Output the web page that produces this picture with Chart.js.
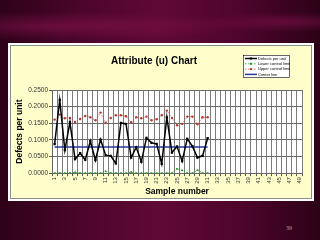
<!DOCTYPE html>
<html>
<head>
<meta charset="utf-8">
<script src="https://cdn.jsdelivr.net/npm/chart.js@4/dist/chart.umd.min.js"></script>
<style>
  html, body { margin: 0; padding: 0; }
  body {
    width: 320px; height: 240px; overflow: hidden; position: relative;
    background:
      radial-gradient(ellipse 200px 14px at 60px 26px, rgba(140,20,80,0.55), rgba(140,20,80,0) 100%),
      radial-gradient(ellipse 90px 10px at 290px 22px, rgba(140,20,80,0.5), rgba(140,20,80,0) 100%),
      linear-gradient(90deg, #2e0219 0%, #50062c 30%, #600936 50%, #4e052b 75%, #2c0217 100%);
  }
  #frame {
    position: absolute; left: 8px; top: 43px; width: 306px; height: 158px;
    background: #ffffff;
  }
  #inner {
    position: absolute; left: 2px; top: 2px; width: 300px; height: 152px;
    border: 1px solid #8c8c8c; background: #ffffcc;
  }
  #pageNo {
    position: absolute; left: 286px; top: 225px;
    font: 6px "Liberation Serif", serif; color: #c09aa8;
  }
</style>
</head>
<body>
<div id="frame"><div id="inner"><canvas id="uChart" width="300" height="152"></canvas></div></div>
<div id="pageNo">39</div>
<script>
// sample numbers on the category axis
const samples = [];
for (let i = 1; i <= 49; i++) samples.push(String(i));

const defectsPerUnit = [0.087, 0.220, 0.069, 0.153, 0.042, 0.060, 0.040, 0.096, 0.039, 0.101,
  0.054, 0.052, 0.029, 0.151, 0.148, 0.047, 0.078, 0.034, 0.106, 0.091,
  0.088, 0.028, 0.168, 0.062, 0.080, 0.036, 0.103, 0.081, 0.047, 0.052, 0.105];

const lowerLimit = [0.000, 0.000, 0.000, 0.000, 0.002, 0.000, 0.000, 0.000, 0.000, 0.000,
  0.005, 0.000, 0.000, 0.000, 0.000, 0.003, 0.000, 0.000, 0.000, 0.000,
  0.000, 0.000, 0.000, 0.000, 0.013, 0.008, 0.000, 0.000, 0.009, 0.000, 0.000];

const upperLimit = [0.161, 0.176, 0.165, 0.166, 0.154, 0.163, 0.172, 0.168, 0.159, 0.182,
  0.151, 0.166, 0.174, 0.174, 0.171, 0.153, 0.168, 0.165, 0.170, 0.159,
  0.162, 0.174, 0.188, 0.166, 0.144, 0.148, 0.170, 0.170, 0.147, 0.168, 0.168];

const centerLine = [0.0784, 0.0784, 0.0784, 0.0784, 0.0784, 0.0784, 0.0784, 0.0784, 0.0784, 0.0784,
  0.0784, 0.0784, 0.0784, 0.0784, 0.0784, 0.0784, 0.0784, 0.0784, 0.0784, 0.0784,
  0.0784, 0.0784, 0.0784, 0.0784, 0.0784, 0.0784, 0.0784, 0.0784, 0.0784, 0.0784, 0.0784];

const yTicks = [0, 0.05, 0.10, 0.15, 0.20, 0.25];

// white plot background, then the title and the little boxed legend
const excelLook = {
  id: 'excelLook',
  beforeDraw(chart) {
    const { ctx, chartArea: a } = chart;
    ctx.save();
    ctx.fillStyle = '#ffffff';
    ctx.fillRect(a.left, a.top, a.right - a.left, a.bottom - a.top);
    ctx.restore();
  },
  afterDraw(chart) {
    const ctx = chart.ctx;
    ctx.save();
    ctx.fillStyle = '#000';
    ctx.font = 'bold 10px "Liberation Sans", Arial, sans-serif';
    ctx.textAlign = 'center';
    ctx.textBaseline = 'middle';
    ctx.fillText('Attribute (u) Chart', 143, 15);

    // legend
    const lx = 232, ly = 9, lw = 47, lh = 23;
    ctx.fillStyle = '#fff';
    ctx.fillRect(lx, ly, lw, lh);
    ctx.strokeStyle = '#000';
    ctx.lineWidth = 0.6;
    ctx.strokeRect(lx + 0.5, ly + 0.5, lw - 1, lh - 1);
    ctx.font = '4px "Liberation Sans", Arial, sans-serif';
    ctx.textAlign = 'left';
    chart.data.datasets.forEach((ds, i) => {
      const y = ly + 3.5 + i * 5.3;
      ctx.strokeStyle = ds.borderColor;
      ctx.lineWidth = ds.borderWidth;
      ctx.setLineDash(ds.borderDash || []);
      ctx.beginPath();
      ctx.moveTo(lx + 2, y);
      ctx.lineTo(lx + 14, y);
      ctx.stroke();
      ctx.setLineDash([]);
      if (ds.pointRadius > 0) {
        ctx.fillStyle = ds.pointBackgroundColor;
        ctx.fillRect(lx + 7, y - 1, 2, 2);
      }
      ctx.fillStyle = '#000';
      ctx.fillText(ds.label, lx + 15, y);
    });
    ctx.restore();
  }
};

new Chart(document.getElementById('uChart').getContext('2d'), {
  type: 'line',
  data: {
    labels: samples,
    datasets: [
      {
        label: 'Defects per unit', data: defectsPerUnit,
        borderColor: '#000000', borderWidth: 1.5,
        pointStyle: 'rect', pointRadius: 1.6,
        pointBackgroundColor: '#000000', pointBorderColor: '#000000', pointBorderWidth: 0
      },
      {
        label: 'Lower control limit', data: lowerLimit,
        borderColor: '#22a022', borderWidth: 0.8, borderDash: [1.5, 1.5],
        pointStyle: 'rect', pointRadius: 1.2,
        pointBackgroundColor: '#1f9a1f', pointBorderColor: '#1f9a1f', pointBorderWidth: 0
      },
      {
        label: 'Upper control limit', data: upperLimit,
        borderColor: '#c0504d', borderWidth: 0.8, borderDash: [1.5, 1.5],
        pointStyle: 'circle', pointRadius: 1.2,
        pointBackgroundColor: '#b83a2a', pointBorderColor: '#b83a2a', pointBorderWidth: 0
      },
      {
        label: 'Center line', data: centerLine,
        borderColor: '#27379a', borderWidth: 1.5, pointRadius: 0
      }
    ]
  },
  options: {
    responsive: false,
    animation: false,
    events: [],
    layout: { padding: { top: 44, right: 9, left: 4, bottom: 1 } },
    plugins: { legend: { display: false }, tooltip: { enabled: false }, title: { display: false } },
    scales: {
      x: {
        offset: true,
        grid: { offset: true, color: '#7c7c7c', lineWidth: 1, tickLength: 3, tickColor: '#555' },
        border: { color: '#666', width: 1 },
        ticks: {
          autoSkip: false, minRotation: 90, maxRotation: 90, padding: 1,
          color: '#333', font: { size: 6, family: '"Liberation Sans", Arial, sans-serif' },
          callback: (v, i) => (i % 2 === 0 ? samples[i] : '')
        },
        title: {
          display: true, text: 'Sample number', color: '#000',
          font: { size: 8.5, weight: 'bold', family: '"Liberation Sans", Arial, sans-serif' },
          padding: { top: 2, bottom: 0 }
        }
      },
      y: {
        min: 0, max: 0.25,
        afterBuildTicks: (s) => { s.ticks = yTicks.map(v => ({ value: v })); },
        grid: { color: '#6a6a6a', lineWidth: 1, tickLength: 3, tickColor: '#555' },
        border: { color: '#666', width: 1 },
        ticks: {
          padding: 1, color: '#333',
          font: { size: 6.5, family: '"Liberation Sans", Arial, sans-serif' },
          callback: (v) => Number(v).toFixed(4)
        },
        title: {
          display: true, text: 'Defects per unit', color: '#000',
          font: { size: 8.5, weight: 'bold', family: '"Liberation Sans", Arial, sans-serif' },
          padding: { top: 0, bottom: 2 }
        }
      }
    }
  },
  plugins: [excelLook]
});
</script>
</body>
</html>
